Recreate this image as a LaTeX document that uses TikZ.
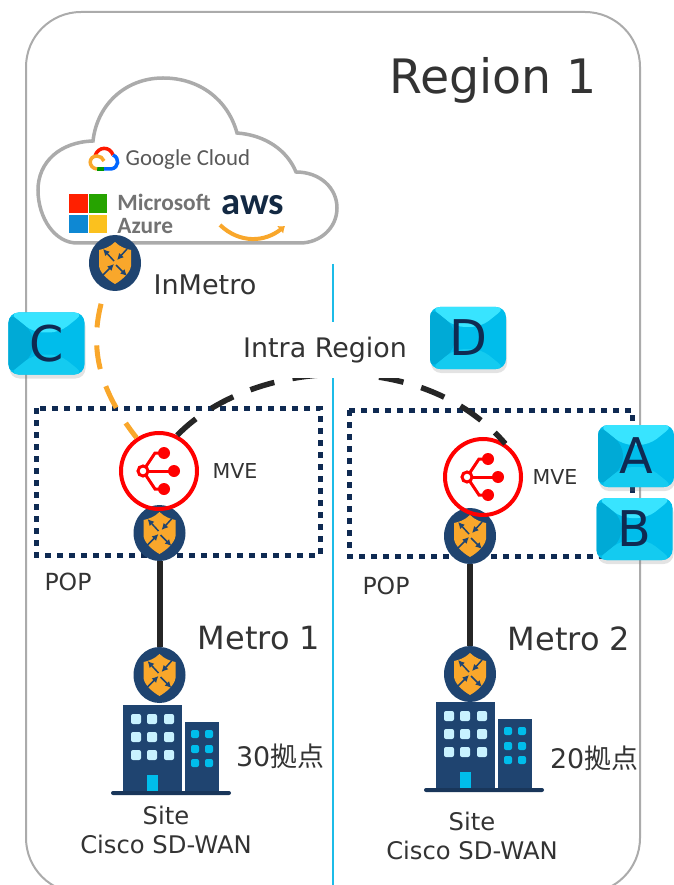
\documentclass[tikz,border=0pt]{standalone}
\usepackage{fontspec}
\setmainfont{DejaVu Sans}
\newfontfamily\cjkfont{Noto Sans CJK JP}
\newfontfamily\logofont{Carlito}
\usepackage{tikz}
\usetikzlibrary{arrows.meta}
\usetikzlibrary{shapes.geometric}
\usetikzlibrary{shadows}
\definecolor{framegray}{HTML}{ABABAB}
\definecolor{linkblue}{HTML}{1CBCE8}
\definecolor{popnavy}{HTML}{0F2A52}
\definecolor{fwnavy}{HTML}{1F4470}
\definecolor{fworange}{HTML}{F9A72B}
\definecolor{linkblack}{HTML}{262626}
\definecolor{textgray}{HTML}{333333}
\definecolor{mvered}{HTML}{FF0000}
\definecolor{winlight}{HTML}{C8F2FF}
\definecolor{wincyan}{HTML}{00BDEB}
\definecolor{btntop}{HTML}{38E4FF}
\definecolor{btnleft}{HTML}{00AAD6}
\definecolor{btnbot}{HTML}{14CBF0}

\begin{document}
\begin{tikzpicture}[
                x=0.2mm, y=-0.2mm,
                lbl/.style={text=textgray, inner sep=0pt, align=center},
                pop/.style={draw=popnavy, line width=1mm, dash pattern=on 1.2mm off 1.2mm},
                fw/.style={ellipse, fill=fwnavy, inner sep=0pt, minimum width=10.4mm, minimum height=11.2mm},
                mve/.style={circle, draw=mvered, line width=0.8mm, inner sep=0pt, minimum size=15.2mm},
                uplink/.style={draw=linkblack, line width=1.2mm},
                wanlink/.style={draw=linkblack, line width=1.1mm, dash pattern=on 5mm off 3.7mm},
                cloudlink/.style={draw=fworange, line width=1mm, dash pattern=on 4.8mm off 3.6mm, dash phase=5.4mm},
                btn/.style={rounded corners=2mm, minimum width=15.2mm, minimum height=12.4mm, inner sep=0pt,
                    text=popnavy, font=\fontsize{28}{30}\selectfont, fill=wincyan,
                    drop shadow={opacity=0.22, shadow xshift=0.2mm, shadow yshift=-0.8mm},
                    path picture={
                        \fill[btntop] (path picture bounding box.north west) -- (path picture bounding box.north east)
                            -- ++(-5mm, -4mm) -- ++(-5.2mm, 0mm) -- cycle;
                        \fill[btnleft] (path picture bounding box.north west) -- (path picture bounding box.south west)
                            -- ++(5mm, 4mm) -- ++(0mm, 4.4mm) -- cycle;
                        \fill[btnbot] (path picture bounding box.south west) -- (path picture bounding box.south east)
                            -- ++(-5mm, 4mm) -- ++(-5.2mm, 0mm) -- cycle;
                    }},
                pics/shield/.style={code={
                    \fill[fworange] (0,-21) .. controls (-5,-16) and (-11,-14) .. (-16,-13) -- (-16,3)
                        .. controls (-15,10) and (-7,17) .. (0,21) .. controls (7,17) and (15,10) .. (16,3)
                        -- (16,-13) .. controls (11,-14) and (5,-16) .. (0,-21) -- cycle;
                    \draw[fwnavy, line width=0.3mm, -{Latex[length=1.3mm, width=1.3mm]}] (-1,-2) -- (-12,-14);
                    \draw[fwnavy, line width=0.3mm, -{Latex[length=1.3mm, width=1.3mm]}] (12,-14) -- (2,-3);
                    \draw[fwnavy, line width=0.3mm, -{Latex[length=1.3mm, width=1.3mm]}] (-12,12) -- (-1,1);
                    \draw[fwnavy, line width=0.3mm, -{Latex[length=1.3mm, width=1.3mm]}] (1,2) -- (12,13);
                }},
                pics/mveicon/.style={code={
                    \draw[mvered, line width=0.6mm] (-16,0) -- (-4,-18) -- (5,-18);
                    \draw[mvered, line width=0.6mm] (-16,0) -- (15,0);
                    \draw[mvered, line width=0.6mm] (-16,0) -- (-4,18) -- (5,18);
                    \fill[mvered] (5,-18) circle [radius=1.2mm];
                    \fill[mvered] (15,0) circle [radius=1.2mm];
                    \fill[mvered] (5,18) circle [radius=1.2mm];
                    \draw[mvered, fill=white, line width=0.6mm] (-16,0) circle [radius=1mm];
                }},
                pics/building/.style={code={
                    \fill[fwnavy] (123,705) rectangle (182,791);
                    \fill[fwnavy] (185,722) rectangle (219,791);
                    \fill[fwnavy!80!black, rounded corners=0.4mm] (111,791) rectangle (231,795);
                    \foreach \winx in {136,152,169}
                        \foreach \winy in {719,737,755}
                            \fill[winlight, rounded corners=0.4mm] (\winx-5,\winy-5) rectangle (\winx+5,\winy+5);
                    \foreach \winx in {195,209}
                        \foreach \winy in {734,749,763}
                            \fill[wincyan, rounded corners=0.4mm] (\winx-4,\winy-4) rectangle (\winx+4,\winy+4);
                    \fill[wincyan] (147,775) rectangle (158,791);
                }}
            ]
            \useasboundingbox (0, 0) rectangle (674, 885);
            \clip (0, 0) rectangle (674, 885);
            % frame and divider
            \draw[framegray, line width=0.4mm, rounded corners=11mm] (26, 12) rectangle (640, 893);
            \coordinate (divtop) at (333, 264);
            \coordinate (divbot) at (333, 885);
            \draw[linkblue, line width=0.45mm] (divtop) -- (divbot);
            \node[lbl, font=\fontsize{27}{30}\selectfont] (regionlbl) at (493, 80) {Region 1};
            % cloud
            \draw[framegray, line width=0.7mm, fill=white] (93, 141) .. controls (97, 105) and (125, 78) .. (163, 78)
                .. controls (200, 78) and (228, 100) .. (237, 133) .. controls (265, 135) and (287, 150) .. (296, 172)
                .. controls (320, 172) and (337, 188) .. (337, 208) .. controls (337, 228) and (320, 243) .. (300, 243)
                -- (77, 243) .. controls (55, 243) and (38, 218) .. (38, 190) .. controls (38, 162) and (60, 142) .. (93, 141) -- cycle;
            % google
            \draw[red!80!orange, line width=0.7mm] (95, 156) .. controls (98, 146) and (110, 146) .. (113, 155);
            \draw[blue!60!cyan, line width=0.7mm] (113, 155) .. controls (120, 158) and (119, 168) .. (111, 169) -- (104, 169);
            \draw[green!60!black, line width=0.7mm] (104, 169) -- (97, 169);
            \draw[fworange, line width=0.7mm] (97, 169) .. controls (88, 168) and (88, 156) .. (97, 156) .. controls (100, 156) and (103, 158) .. (104, 161);
            \node[inner sep=0pt, text=black!65, font=\logofont\fontsize{13}{16}\selectfont] (googlelbl) at (188, 160) {Google Cloud};
            % azure
            \fill[red!75!orange] (69, 194) rectangle (87.5, 213);
            \fill[green!55!black!80!lime] (89, 194) rectangle (107, 213);
            \fill[cyan!70!blue] (69, 215) rectangle (87.5, 233);
            \fill[fworange!70!yellow] (89, 215) rectangle (107, 233);
            \node[inner sep=0pt, align=left, text=black!55, font=\logofont\bfseries\fontsize{13.3}{13}\selectfont] (azurelbl) at (164, 214) {Microsoft\\Azure};
            % aws
            \node[inner sep=0pt, text=fwnavy!60!black, font=\logofont\bfseries\fontsize{22}{22}\selectfont] (awslbl) at (253, 205) {aws};
            \draw[fworange, line width=0.8mm, -{Latex[length=1.2mm, width=2mm]}] (220, 225) .. controls (240, 244) and (265, 242) .. (285, 226);
            % pop boxes
            \draw[pop] (36, 408) rectangle (320, 555);
            \draw[pop] (349, 410) rectangle (632, 556);
            % firewalls
            \node[fw] (fwcloud) at (115, 263) {};
            \node[fw] (fwpopa) at (159.5, 533) {};
            \node[fw] (fwsitea) at (159.5, 675) {};
            \node[fw] (fwpopb) at (470, 536) {};
            \node[fw] (fwsiteb) at (470, 674) {};
            \foreach \fwname in {fwcloud, fwpopa, fwsitea, fwpopb, fwsiteb}
                \pic at (\fwname) {shield};
            % mve
            \node[mve] (mvea) at (159, 471) {};
            \node[mve] (mveb) at (483, 477) {};
            \pic at (mvea) {mveicon};
            \pic at (mveb) {mveicon};
            % links
            \draw[uplink] (fwpopa) -- (fwsitea);
            \draw[uplink] (fwpopb) -- (fwsiteb);
            \draw[cloudlink] (fwcloud.250) .. controls (88, 340) and (95, 385) .. (mvea.124);
            \draw[wanlink] (mvea.63) .. controls (250, 360) and (420, 345) .. (mveb.56);
            % labels
            \node[lbl, fill=white, minimum width=35mm, minimum height=11.2mm, font=\fontsize{15.3}{18}\selectfont] (intralbl) at (325, 350) {Intra Region};
            \node[lbl, font=\fontsize{15.4}{18}\selectfont] (inmetrolbl) at (205, 285) {InMetro};
            \node[lbl, font=\fontsize{11.7}{14}\selectfont] (mvelbla) at (235, 471) {MVE};
            \node[lbl, font=\fontsize{11.7}{14}\selectfont] (mvelblb) at (555, 477) {MVE};
            \node[lbl, font=\fontsize{13.4}{16}\selectfont] (poplbla) at (68, 582) {POP};
            \node[lbl, font=\fontsize{13.4}{16}\selectfont] (poplblb) at (386, 586) {POP};
            \node[lbl, font=\fontsize{18.2}{20}\selectfont] (metrolbla) at (259, 638) {Metro 1};
            \node[lbl, font=\fontsize{18.2}{20}\selectfont] (metrolblb) at (569, 639) {Metro 2};
            % sites
            \pic at (0, 0) {building};
            \pic at (313, -3) {building};
            \node[lbl, font=\fontsize{15.3}{18}\selectfont] (counta) at (280, 756) {30{\cjkfont 拠点}};
            \node[lbl, font=\fontsize{15.3}{18}\selectfont] (countb) at (594, 758) {20{\cjkfont 拠点}};
            \node[lbl, font=\fontsize{13.8}{16.5}\selectfont] (sitea) at (166, 830) {Site\\Cisco SD-WAN};
            \node[lbl, font=\fontsize{13.8}{16.5}\selectfont] (siteb) at (472, 836) {Site\\Cisco SD-WAN};
            % buttons
            \node[btn] (btnc) at (46.5, 343.5) {C};
            \node[btn] (btnd) at (468, 338) {D};
            \node[btn] (btnb) at (634.5, 529) {B};
            \node[btn] (btna) at (636, 456) {A};
        \end{tikzpicture}
\end{document}
